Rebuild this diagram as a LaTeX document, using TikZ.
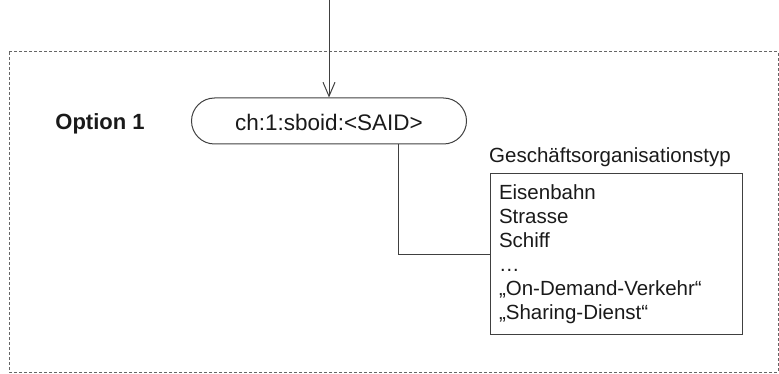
\documentclass[tikz,border=0pt]{standalone}
\usepackage{fontspec}
\setmainfont{Liberation Sans}
\usetikzlibrary{shapes.misc,arrows.meta}
\definecolor{linec}{HTML}{404040}
\definecolor{txtc}{HTML}{1A1A1A}
\begin{document}
\begin{tikzpicture}[x=1pt,y=-1pt,
  conn/.style={draw=linec,line width=1pt},
  idbox/.style={rounded rectangle,draw=linec,line width=1pt,minimum width=275pt,minimum height=46pt,inner sep=0pt,text height=20pt,text depth=0pt,text=txtc,font=\fontsize{22.5}{26}\selectfont},
  listbox/.style={draw=linec,line width=1pt,minimum height=160pt,text width=234pt,inner xsep=9pt,inner ysep=0pt,align=left,text=txtc,font=\fontsize{20.5}{24}\selectfont},
  plain/.style={inner sep=0pt,text=txtc}]
\useasboundingbox (0,0) rectangle (779,374);
\draw[draw=linec!80,line width=1pt,dash pattern=on 3pt off 2pt] (9,52) rectangle (778,372);
\node[idbox] (said) at (329,121) {ch:1:sboid:<SAID>};
\node[plain,font=\fontsize{22}{26}\selectfont\bfseries] (opt) at (100,124) {Option 1};
\node[listbox] (list) at (616,254) {Eisenbahn\\Strasse\\Schiff\\…\\„On-Demand-Verkehr“\\„Sharing-Dienst“};
\node[plain,anchor=west,font=\fontsize{20.5}{24}\selectfont] (title) at (489,157) {Geschäftsorganisationstyp};
\coordinate (top) at (329,0);
\draw[conn,-{Straight Barb[length=14pt,width=12pt]}] (top) -- (said);
\draw[conn] ([xshift=69pt]said.south) |- (list.west);
\end{tikzpicture}
\end{document}
